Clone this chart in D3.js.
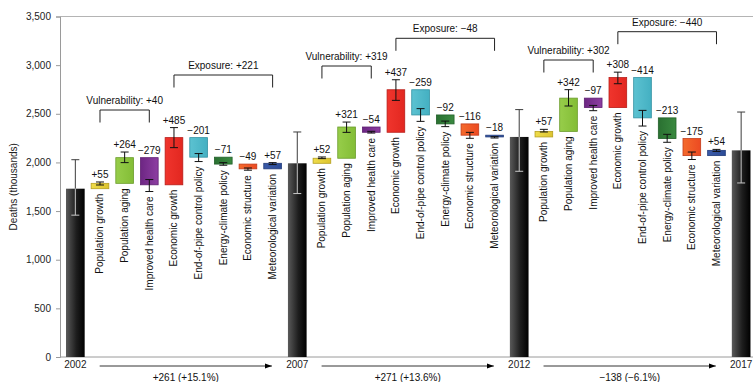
<!DOCTYPE html>
<html>
<head>
<meta charset="utf-8">
<script src="https://cdn.jsdelivr.net/npm/d3@7"></script>
<style>
  html, body { margin: 0; padding: 0; background: #fff; }
  svg { display: block; font-family: "Liberation Sans", Arial, Helvetica, sans-serif; }
</style>
</head>
<body>
<svg id="chart" width="753" height="382"></svg>
<script>
// ---- Data (deaths, thousands) ----
const years = ["2002", "2007", "2012", "2017"];
const factorNames = [
  "Population growth", "Population aging", "Improved health care",
  "Economic growth", "End-of-pipe control policy", "Energy-climate policy",
  "Economic structure", "Meteorological variation"
];
const startDeaths = 1730;
const changes2002to2007 = [55, 264, -279, 485, -201, -71, -49, 57];
const changes2007to2012 = [52, 321, -54, 437, -259, -92, -116, -18];
const changes2012to2017 = [57, 342, -97, 308, -414, -213, -175, 54];

// uncertainty ranges of the cumulative value after each factor
const errLow2002to2007  = [1768, 1998, 1701, 2152, 2009, 1971, 1920, 1978];
const errHigh2002to2007 = [1799, 2107, 1824, 2358, 2091, 1998, 1943, 1998];
const errLow2007to2012  = [2039, 2309, 2302, 2638, 2422, 2368, 2248, 2251];
const errHigh2007to2012 = [2056, 2415, 2320, 2850, 2553, 2425, 2309, 2265];
const errLow2012to2017  = [2313, 2580, 2532, 2809, 2374, 2207, 2030, 2113];
const errHigh2012to2017 = [2340, 2748, 2586, 2928, 2535, 2289, 2107, 2134];

// uncertainty ranges of the yearly totals
const totalErrLow  = [1458, 1680, 1909, 1789];
const totalErrHigh = [2028, 2313, 2543, 2518];

const yTicks = [0, 500, 1000, 1500, 2000, 2500, 3000, 3500];

// factor groups: indices into factorNames
const vulnerabilityGroup = [0, 1, 2];
const exposureGroup = [3, 4, 5, 6, 7];

// ---- Styles ----
const factorColors = [
  ["#efdc4a", "#dcc430", "#b59f1f"],
  ["#97cd4a", "#83bd36", "#6a9c2a"],
  ["#6d2683", "#8d3ea2", "#5f1f72"],
  ["#f0352d", "#e22720", "#b81c17"],
  ["#5cc2d1", "#44b0c2", "#3191a2"],
  ["#2a7031", "#3a8a40", "#22602a"],
  ["#f46a2c", "#ec4a22", "#c43b1a"],
  ["#3a5aa8", "#2b4b97", "#213b7a"]
];

// ---- Layout ----
const W = 753, H = 382;
const axisX = 60;
const bracketY = {
  vulnerability: [110, 66, 60],
  exposure: [75, 38.3, 31.7]
};

const svg = d3.select("#chart");
const defs = svg.append("defs");

// gradients
const totalGrad = defs.append("linearGradient").attr("id", "gTotal")
  .attr("x1", "0%").attr("x2", "100%").attr("y1", "0%").attr("y2", "0%");
totalGrad.append("stop").attr("offset", "0%").attr("stop-color", "#5a5a5a");
totalGrad.append("stop").attr("offset", "55%").attr("stop-color", "#1e1e1e");
totalGrad.append("stop").attr("offset", "100%").attr("stop-color", "#000");
factorColors.forEach((c, i) => {
  const g = defs.append("linearGradient").attr("id", "gF" + i)
    .attr("x1", "0%").attr("x2", "100%").attr("y1", "0%").attr("y2", "0%");
  g.append("stop").attr("offset", "0%").attr("stop-color", c[0]);
  g.append("stop").attr("offset", "100%").attr("stop-color", c[1]);
});
defs.append("marker").attr("id", "arrowHead")
  .attr("viewBox", "0 0 10 10").attr("refX", 10).attr("refY", 5)
  .attr("markerWidth", 7).attr("markerHeight", 7).attr("markerUnits", "userSpaceOnUse")
  .attr("orient", "auto")
  .append("path").attr("d", "M0,1.5 L10,5 L0,8.5 Z").attr("fill", "#000");

// ---- Build the waterfall ----
const periodChanges = [changes2002to2007, changes2007to2012, changes2012to2017];
const periodErrLow = [errLow2002to2007, errLow2007to2012, errLow2012to2017];
const periodErrHigh = [errHigh2002to2007, errHigh2007to2012, errHigh2012to2017];

const slots = [];
const totals = [startDeaths];
let cum = startDeaths;
periodChanges.forEach((vals, p) => {
  slots.push({ key: "T" + p, type: "total", year: years[p], value: cum,
               lo: totalErrLow[p], hi: totalErrHigh[p] });
  vals.forEach((v, f) => {
    const from = cum, to = cum + v;
    slots.push({ key: "P" + p + "F" + f, type: "factor", period: p, factor: f,
                 change: v, from, to, lo: periodErrLow[p][f], hi: periodErrHigh[p][f] });
    cum = to;
  });
  totals.push(cum);
});
slots.push({ key: "T3", type: "total", year: years[3], value: cum,
             lo: totalErrLow[3], hi: totalErrHigh[3] });

const x = d3.scaleBand().domain(slots.map(d => d.key))
  .range([63, 63 + 28 * 24.66]).paddingInner(0.243).paddingOuter(0.1215);
const y = d3.scaleLinear().domain([0, 3500]).range([357, 16.5]);
const bw = x.bandwidth();
const cx = k => x(k) + bw / 2;

const fmtSigned = v => (v >= 0 ? "+" : "\u2212") + Math.abs(v);

// frame lines
svg.append("line").attr("x1", axisX).attr("x2", W).attr("y1", y(3500)).attr("y2", y(3500))
  .attr("stroke", "#b4b4b4").attr("stroke-width", 1);
svg.append("line").attr("x1", axisX).attr("x2", W).attr("y1", y(0)).attr("y2", y(0))
  .attr("stroke", "#9a9a9a").attr("stroke-width", 1);

// y axis
const yAxis = d3.axisLeft(y).tickValues(yTicks).tickFormat(d3.format(","))
  .tickSize(4).tickPadding(5);
const yAxisG = svg.append("g").attr("transform", `translate(${axisX},0)`).call(yAxis);
yAxisG.select(".domain").attr("stroke", "#9a9a9a");
yAxisG.selectAll(".tick line").attr("stroke", "#9a9a9a");
yAxisG.selectAll(".tick text").attr("fill", "#222").style("font-size", "10px")
  .style("font-family", "'Liberation Sans', Arial, sans-serif");

svg.append("text").attr("transform", `translate(13,${(y(0) + y(3500)) / 2}) rotate(-90)`)
  .attr("text-anchor", "middle").attr("dominant-baseline", "central")
  .style("font-size", "10px").attr("fill", "#222").text("Deaths (thousands)");

// total bars
const totalSlots = slots.filter(d => d.type === "total");
svg.append("g").selectAll("rect").data(totalSlots).join("rect")
  .attr("x", d => x(d.key)).attr("width", bw)
  .attr("y", d => y(d.value)).attr("height", d => y(0) - y(d.value))
  .attr("fill", "url(#gTotal)");

// total error bars: dark above the bar, light inside it
const tErr = svg.append("g");
totalSlots.forEach(d => {
  const c = cx(d.key);
  tErr.append("line").attr("x1", c).attr("x2", c).attr("y1", y(d.hi)).attr("y2", y(d.value))
    .attr("stroke", "#3c3c3c").attr("stroke-width", 1);
  tErr.append("line").attr("x1", c - 4).attr("x2", c + 4).attr("y1", y(d.hi)).attr("y2", y(d.hi))
    .attr("stroke", "#3c3c3c").attr("stroke-width", 1);
  tErr.append("line").attr("x1", c).attr("x2", c).attr("y1", y(d.value)).attr("y2", y(d.lo))
    .attr("stroke", "#c8c8c8").attr("stroke-width", 1);
  tErr.append("line").attr("x1", c - 4).attr("x2", c + 4).attr("y1", y(d.lo)).attr("y2", y(d.lo))
    .attr("stroke", "#c8c8c8").attr("stroke-width", 1);
});

// year labels
svg.append("g").selectAll("text").data(totalSlots).join("text")
  .attr("x", d => cx(d.key)).attr("y", 368).attr("text-anchor", "middle")
  .style("font-size", "10px").attr("fill", "#222").text(d => d.year);

// factor bars
const factorSlots = slots.filter(d => d.type === "factor");
svg.append("g").selectAll("rect").data(factorSlots).join("rect")
  .attr("x", d => x(d.key) + 0.5).attr("width", bw - 1)
  .attr("y", d => y(Math.max(d.from, d.to)))
  .attr("height", d => Math.max(1.5, Math.abs(y(d.from) - y(d.to))))
  .attr("fill", d => `url(#gF${d.factor})`)
  .attr("stroke", d => factorColors[d.factor][2]).attr("stroke-width", 0.8);

// factor error bars
const fErr = svg.append("g").attr("stroke", "#111").attr("stroke-width", 1);
factorSlots.forEach(d => {
  const c = cx(d.key);
  fErr.append("line").attr("x1", c).attr("x2", c).attr("y1", y(d.hi)).attr("y2", y(d.lo));
  fErr.append("line").attr("x1", c - 4).attr("x2", c + 4).attr("y1", y(d.hi)).attr("y2", y(d.hi));
  fErr.append("line").attr("x1", c - 4).attr("x2", c + 4).attr("y1", y(d.lo)).attr("y2", y(d.lo));
});

// value labels above each factor bar
svg.append("g").selectAll("text").data(factorSlots).join("text")
  .attr("x", d => cx(d.key))
  .attr("y", d => Math.min(y(Math.max(d.from, d.to)), y(d.hi)) - 4)
  .attr("text-anchor", "middle").style("font-size", "10px").attr("fill", "#111")
  .text(d => fmtSigned(d.change));

// rotated factor names below each bar
svg.append("g").selectAll("text").data(factorSlots).join("text")
  .attr("transform", d => {
    const top = Math.max(y(Math.min(d.from, d.to)), y(d.lo)) + 5;
    return `translate(${cx(d.key)},${top}) rotate(-90)`;
  })
  .attr("text-anchor", "end").attr("dominant-baseline", "central")
  .style("font-size", "10px").attr("fill", "#111")
  .text(d => factorNames[d.factor]);

// group brackets
function bracket(p, group, level, label) {
  const first = "P" + p + "F" + group[0];
  const last = "P" + p + "F" + group[group.length - 1];
  const x1 = cx(first), x2 = cx(last);
  const sum = d3.sum(group, f => periodChanges[p][f]);
  svg.append("path")
    .attr("d", `M${x1},${level + 12.5}V${level}H${x2}V${level + 12.5}`)
    .attr("fill", "none").attr("stroke", "#222").attr("stroke-width", 1);
  svg.append("text").attr("x", (x1 + x2) / 2).attr("y", level - 6)
    .attr("text-anchor", "middle").style("font-size", "10px").attr("fill", "#111")
    .text(`${label}: ${fmtSigned(sum)}`);
}
for (let p = 0; p < 3; p++) {
  bracket(p, vulnerabilityGroup, bracketY.vulnerability[p], "Vulnerability");
  bracket(p, exposureGroup, bracketY.exposure[p], "Exposure");
}

// period change arrows
for (let p = 0; p < 3; p++) {
  const a = x("T" + p) + bw + 15;
  const b = x(p === 2 ? "T3" : "T" + (p + 1)) - 16;
  svg.append("line").attr("x1", a).attr("x2", b).attr("y1", 366).attr("y2", 366)
    .attr("stroke", "#000").attr("stroke-width", 0.8).attr("marker-end", "url(#arrowHead)");
  const diff = totals[p + 1] - totals[p];
  const pct = (diff / totals[p] * 100).toFixed(1);
  const sign = diff >= 0 ? "+" : "\u2212";
  svg.append("text").attr("x", (a + b) / 2).attr("y", 380.5).attr("text-anchor", "middle")
    .style("font-size", "10px").attr("fill", "#111")
    .text(`${sign}${Math.abs(diff)} (${sign}${Math.abs(pct)}%)`);
}
</script>
</body>
</html>
